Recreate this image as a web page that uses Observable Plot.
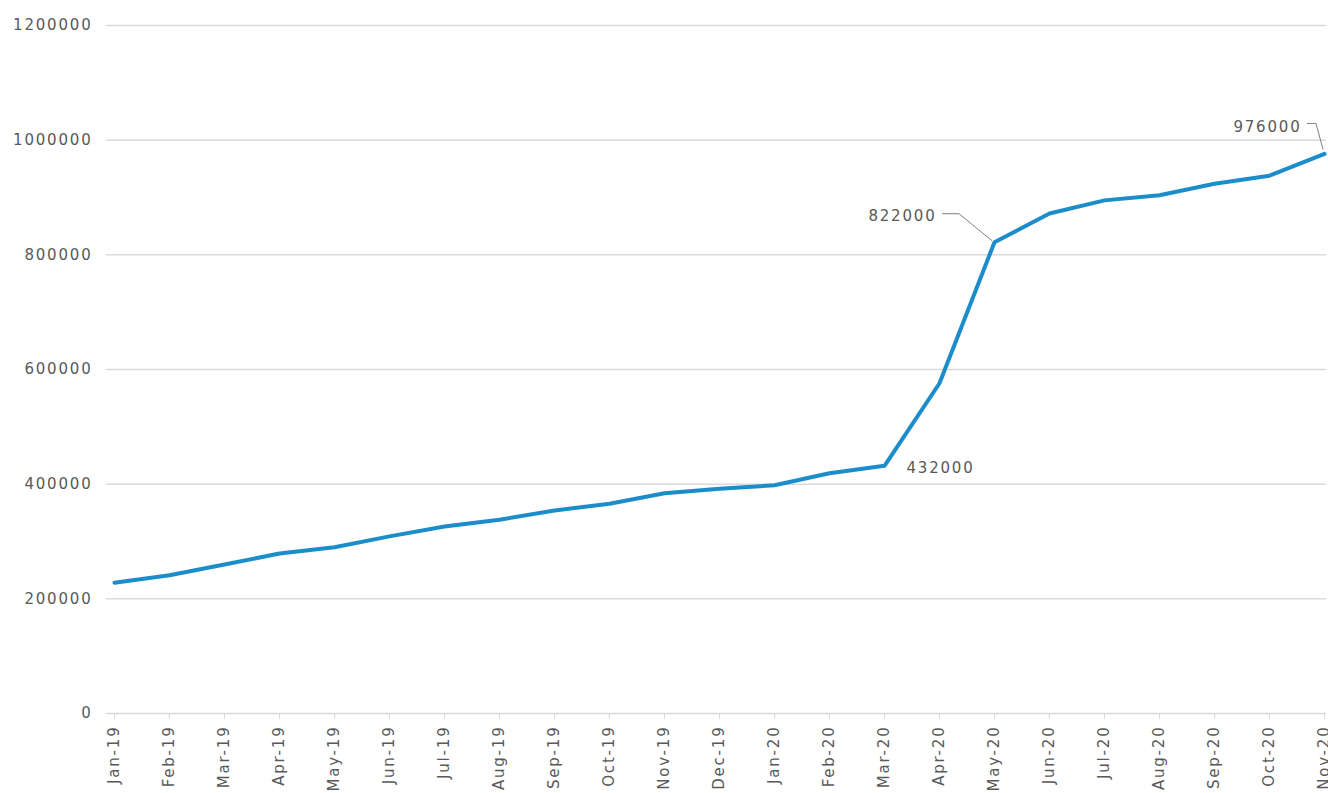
<!DOCTYPE html>
<html><head><meta charset="utf-8">
<script src="https://cdn.jsdelivr.net/npm/d3@7"></script>
<script src="https://cdn.jsdelivr.net/npm/@observablehq/plot@0.6"></script>
<style>html,body{margin:0;padding:0;background:#fff;overflow:hidden;}</style>
</head><body><div id="chart"></div>
<script>
const months = ["Jan-19","Feb-19","Mar-19","Apr-19","May-19","Jun-19","Jul-19","Aug-19","Sep-19","Oct-19","Nov-19","Dec-19",
  "Jan-20","Feb-20","Mar-20","Apr-20","May-20","Jun-20","Jul-20","Aug-20","Sep-20","Oct-20","Nov-20"];
const values = [228000,241000,260000,279000,290000,309000,326000,338000,354000,366000,384000,392000,
  398000,419000,432000,576000,822000,872000,895000,904000,924000,938000,976000];
const yTicks = [0,200000,400000,600000,800000,1000000,1200000];
const labelledMonths = ["Mar-20","May-20","Nov-20"];

const data = months.map((m, i) => ({month: m, value: values[i]}));
const labelled = data.filter(d => labelledMonths.includes(d.month));

const textColor = "#595959";
const gridColor = "#d9d9d9";
const lineColor = "#1b8dcb";

// label placement (pixel offsets, styling only)
const labelStyle = {
  "Mar-20": {dx: 22, dy: 2, anchor: "start", leader: null},
  "May-20": {dx: -58, dy: -26, anchor: "end", leader: [[-52,-28],[-35,-28],[-2,-1]]},
  "Nov-20": {dx: -23, dy: -27, anchor: "end", leader: [[-17,-30],[-8,-30],[-1,-4]]}
};

function leaders(index, scales) {
  const g = document.createElementNS("http://www.w3.org/2000/svg", "g");
  for (const d of labelled) {
    const s = labelStyle[d.month];
    if (!s.leader) continue;
    const px = scales.x(d.month), py = scales.y(d.value);
    const p = document.createElementNS("http://www.w3.org/2000/svg", "path");
    p.setAttribute("d", "M" + s.leader.map(([a,b]) => `${px+a},${py+b}`).join("L"));
    p.setAttribute("fill", "none");
    p.setAttribute("stroke", "#7f7f7f");
    p.setAttribute("stroke-width", "1");
    g.appendChild(p);
  }
  return g;
}

const textMarks = labelledMonths.map(m => {
  const s = labelStyle[m];
  return Plot.text(labelled.filter(d => d.month === m), {
    x: "month", y: "value", text: d => String(d.value),
    dx: s.dx, dy: s.dy, textAnchor: s.anchor, fill: textColor, fontSize: 15
  });
});

const chart = Plot.plot({
  width: 1328,
  height: 793,
  marginTop: 25,
  marginBottom: 80,
  marginLeft: 106,
  marginRight: 2,
  style: "font-family: 'DejaVu Sans', sans-serif; font-size: 15px; letter-spacing: 1.8px; color: #595959; background: #fff;",
  x: {type: "point", domain: months, padding: 0, insetLeft: 6},
  y: {domain: [0, 1200000]},
  marks: [
    Plot.ruleY(yTicks, {stroke: gridColor, strokeWidth: 1.5}),
    Plot.axisY({ticks: yTicks, tickFormat: d => String(d), tickSize: 0, tickPadding: 14, fill: textColor, fontSize: 15, label: null}),
    Plot.axisX({tickRotate: -90, tickSize: 6, tickPadding: 6, stroke: gridColor, fill: textColor, fontSize: 15, label: null}),
    Plot.line(data, {x: "month", y: "value", stroke: lineColor, strokeWidth: 4, strokeLinejoin: "round", strokeLinecap: "round"}),
    leaders,
    ...textMarks
  ]
});
document.getElementById("chart").appendChild(chart);
</script>
</body></html>
